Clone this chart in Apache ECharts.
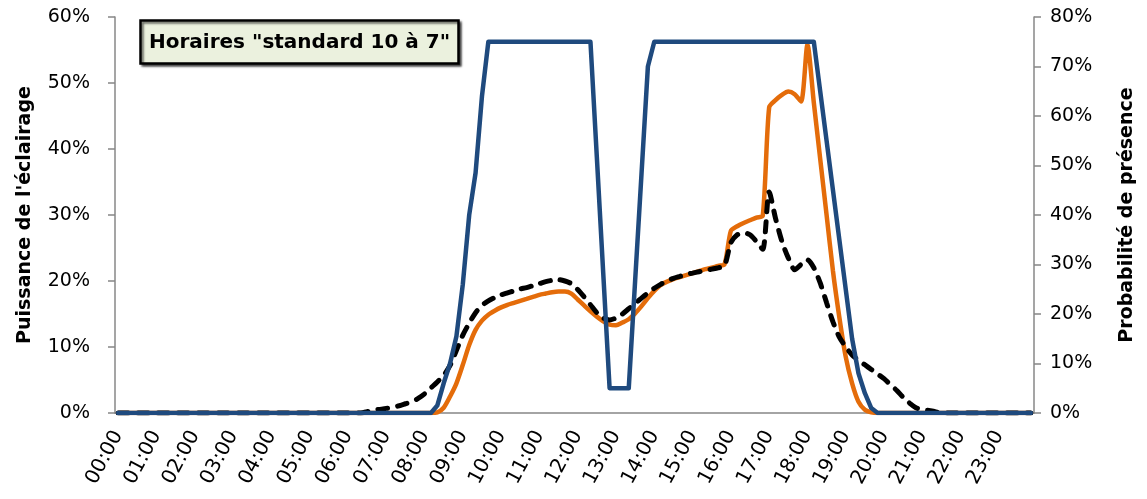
<!DOCTYPE html>
<html>
<head>
<meta charset="utf-8">
<script src="https://cdn.jsdelivr.net/npm/echarts@6/dist/echarts.min.js"></script>
<style>
  html, body { margin: 0; padding: 0; background: #fff; }
  #chart { width: 1147px; height: 499px; }
</style>
</head>
<body>
<div id="chart"></div>
<script>
// 10-minute steps, 00:00 .. 23:50
const times = []
for (let h = 0; h < 24; h++) {
  for (let m = 0; m < 60; m += 10) {
    times.push(String(h).padStart(2, '0') + ':' + String(m).padStart(2, '0'))
  }
}

// Puissance de l'éclairage (%), axe gauche - courbe orange
const puissance = [
  0, 0, 0, 0, 0, 0, 0, 0, 0, 0,
  0, 0, 0, 0, 0, 0, 0, 0, 0, 0,
  0, 0, 0, 0, 0, 0, 0, 0, 0, 0,
  0, 0, 0, 0, 0, 0, 0, 0, 0, 0,
  0, 0, 0, 0, 0, 0, 0, 0, 0, 0,
  0.1, 0.8, 2.5, 4.5, 7.3, 10.3, 12.6, 14.0, 14.9, 15.5,
  16.0, 16.4, 16.7, 17.0, 17.3, 17.6, 17.9, 18.1, 18.3, 18.4,
  18.4, 18.1, 17.2, 16.3, 15.4, 14.6, 13.9, 13.4, 13.3, 13.7,
  14.2, 15.1, 16.2, 17.4, 18.5, 19.4, 19.9, 20.3, 20.6, 20.9,
  21.2, 21.5, 21.8, 22.0, 22.3, 22.5, 27.6, 28.3, 28.8, 29.2,
  29.6, 29.9, 46.3, 47.4, 48.2, 48.7, 48.3, 47.2, 55.8, 47.0,
  38.5, 30.0, 21.5, 14.5, 8.5, 4.5, 1.7, 0.5, 0.1, 0,
  0, 0, 0, 0, 0, 0, 0, 0, 0, 0,
  0, 0, 0, 0, 0, 0, 0, 0, 0, 0,
  0, 0, 0, 0
]

// seconde courbe de puissance (%), axe gauche - pointillés noirs
const puissanceRef = [
  0, 0, 0, 0, 0, 0, 0, 0, 0, 0,
  0, 0, 0, 0, 0, 0, 0, 0, 0, 0,
  0, 0, 0, 0, 0, 0, 0, 0, 0, 0,
  0, 0, 0, 0, 0, 0, 0, 0, 0, 0.2,
  0.45, 0.55, 0.7, 0.85, 1.1, 1.4, 1.7, 2.2, 2.9, 3.8,
  4.7, 5.7, 7.2, 9.5, 11.8, 13.6, 15.2, 16.3, 17.0, 17.5,
  17.9, 18.2, 18.5, 18.8, 19.0, 19.3, 19.6, 19.9, 20.1, 20.2,
  20.0, 19.6, 18.7, 17.6, 16.4, 15.2, 14.4, 14.1, 14.4, 15.0,
  15.8, 16.6, 17.4, 18.2, 18.9, 19.5, 20.0, 20.4, 20.7, 21.0,
  21.2, 21.4, 21.6, 21.8, 22.0, 22.3, 25.8, 27.0, 27.3, 27.0,
  26.0, 24.8, 33.5, 29.5, 26.0, 23.5, 21.7, 22.5, 23.2, 22.0,
  19.7, 16.7, 13.8, 11.5, 10.0, 8.8, 8.0, 7.3, 6.6, 5.9,
  5.2, 4.3, 3.4, 2.4, 1.5, 0.8, 0.5, 0.4, 0.2, 0,
  0, 0, 0, 0, 0, 0, 0, 0, 0, 0,
  0, 0, 0, 0
]

// Probabilité de présence (%), axe droit - courbe bleue
const presence = [
  0, 0, 0, 0, 0, 0, 0, 0, 0, 0,
  0, 0, 0, 0, 0, 0, 0, 0, 0, 0,
  0, 0, 0, 0, 0, 0, 0, 0, 0, 0,
  0, 0, 0, 0, 0, 0, 0, 0, 0, 0,
  0, 0, 0, 0, 0, 0, 0, 0, 0, 0,
  1.5, 6, 10, 15.5, 26, 40, 48.5, 64, 75, 75,
  75, 75, 75, 75, 75, 75, 75, 75, 75, 75,
  75, 75, 75, 75, 75, 51.7, 28.3, 5, 5, 5,
  5, 26.7, 48.3, 70, 75, 75, 75, 75, 75, 75,
  75, 75, 75, 75, 75, 75, 75, 75, 75, 75,
  75, 75, 75, 75, 75, 75, 75, 75, 75, 75,
  65, 55, 45, 35, 25, 15, 8, 4, 1, 0,
  0, 0, 0, 0, 0, 0, 0, 0, 0, 0,
  0, 0, 0, 0, 0, 0, 0, 0, 0, 0,
  0, 0, 0, 0
]

const titleText = 'Horaires "standard 10 à 7"'
const leftName = "Puissance de l'éclairage"
const rightName = 'Probabilité de présence'

const font = 'DejaVu Sans'
const axisGray = '#878787'

const myChart = echarts.init(document.getElementById('chart'))
const option = {
  animation: false,
  backgroundColor: '#FFFFFF',
  title: {
    text: titleText,
    left: 140,
    top: 20,
    padding: [13, 9, 11, 9],
    backgroundColor: '#EBF1DE',
    borderColor: '#000000',
    borderWidth: 2.5,
    shadowColor: 'rgba(0,0,0,0.55)',
    shadowBlur: 2,
    shadowOffsetX: 2,
    shadowOffsetY: 2,
    textStyle: {
      fontFamily: font,
      fontWeight: 'bold',
      fontSize: 20,
      color: '#000'
    }
  },
  grid: {
    left: 115,
    right: 113,
    top: 17,
    bottom: 86
  },
  xAxis: {
    type: 'category',
    data: times,
    boundaryGap: true,
    axisLine: {
      lineStyle: { color: axisGray, width: 1.5 }
    },
    axisTick: {
      interval: function (i) { return i % 6 === 0 },
      length: 7,
      lineStyle: { color: axisGray, width: 1.5 }
    },
    axisLabel: {
      interval: function (i) { return i % 6 === 0 },
      rotate: 62,
      margin: 19,
      fontFamily: font,
      fontSize: 20,
      color: '#000'
    },
    splitLine: { show: false }
  },
  yAxis: [
    {
      type: 'value',
      min: 0,
      max: 60,
      interval: 10,
      name: leftName,
      nameLocation: 'middle',
      nameGap: 80,
      nameTextStyle: {
        fontFamily: font,
        fontWeight: 'bold',
        fontSize: 19,
        color: '#000'
      },
      axisLine: {
        show: true,
        lineStyle: { color: axisGray, width: 1.5 }
      },
      axisTick: {
        show: true,
        length: 7,
        lineStyle: { color: axisGray, width: 1.5 }
      },
      axisLabel: {
        formatter: '{value}%',
        margin: 25,
        fontFamily: font,
        fontSize: 19,
        color: '#000'
      },
      splitLine: { show: false }
    },
    {
      type: 'value',
      min: 0,
      max: 80,
      interval: 10,
      position: 'right',
      name: rightName,
      nameLocation: 'middle',
      nameGap: 84,
      nameTextStyle: {
        fontFamily: font,
        fontWeight: 'bold',
        fontSize: 19,
        color: '#000'
      },
      axisLine: {
        show: true,
        lineStyle: { color: axisGray, width: 1.5 }
      },
      axisTick: {
        show: true,
        length: 7,
        lineStyle: { color: axisGray, width: 1.5 }
      },
      axisLabel: {
        formatter: '{value}%',
        margin: 16,
        fontFamily: font,
        fontSize: 19,
        color: '#000'
      },
      splitLine: { show: false }
    }
  ],
  series: [
    {
      name: 'Puissance',
      type: 'line',
      data: puissance,
      yAxisIndex: 0,
      smooth: 0.25,
      showSymbol: false,
      lineStyle: { color: '#E46C0A', width: 4.5 },
      itemStyle: { color: '#E46C0A' }
    },
    {
      name: 'Puissance ref',
      type: 'line',
      data: puissanceRef,
      yAxisIndex: 0,
      smooth: 0.25,
      showSymbol: false,
      lineStyle: { color: '#000000', width: 5, type: [10, 10], cap: 'round' },
      itemStyle: { color: '#000000' }
    },
    {
      name: 'Présence',
      type: 'line',
      data: presence,
      yAxisIndex: 1,
      showSymbol: false,
      lineStyle: { color: '#1F4A7E', width: 4.5, join: 'round', cap: 'round' },
      itemStyle: { color: '#1F4A7E' }
    }
  ]
}
myChart.setOption(option)
window.addEventListener('resize', function () {
  myChart.resize()
})
</script>
</body>
</html>
